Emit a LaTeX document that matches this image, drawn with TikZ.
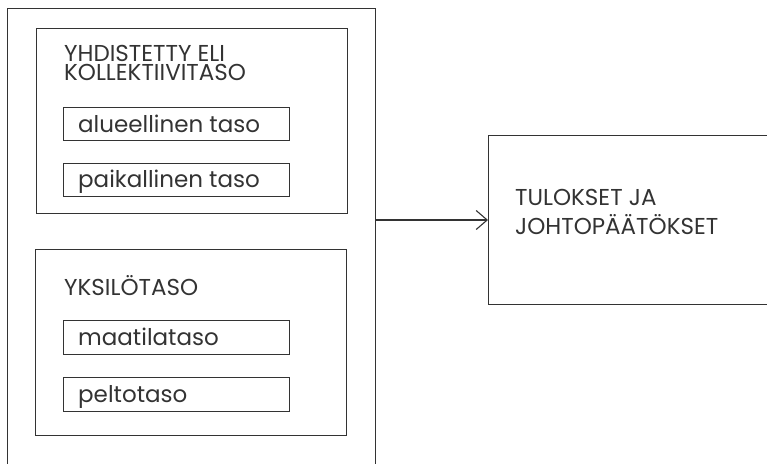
\documentclass[tikz,border=0pt]{standalone}
\usepackage{fontspec}
\setmainfont{Poppins}
\usetikzlibrary{arrows.meta}
\definecolor{ink}{HTML}{333333}
\begin{document}
\begin{tikzpicture}[x=1pt,y=-1pt,
  frame/.style={draw=ink, line width=1.2pt, inner sep=0pt, anchor=north west},
  lbl/.style={anchor=base west, inner sep=0pt, text=ink, font=\fontsize{23}{23}\selectfont},
  conn/.style={draw=ink, line width=1.1pt, -{Straight Barb[length=11pt,width=19pt]}}]
\useasboundingbox (0,0) rectangle (767,463);
\clip (0,0) rectangle (767,463);
% outer container (bottom edge outside the picture)
\node[frame, minimum width=368pt, minimum height=470pt] (outer) at (7,8) {};
% upper group
\node[frame, minimum width=311pt, minimum height=185pt] (coll) at (36,28) {};
\node[lbl, align=left, font=\fontsize{23}{19}\selectfont] (colltitle) at (64,80.5) {YHDISTETTY ELI\\KOLLEKTIIVITASO};
\node[frame, minimum width=226pt, minimum height=33pt] (alue) at (63,107) {};
\node[lbl] (aluet) at (78,132) {alueellinen taso};
\node[frame, minimum width=226pt, minimum height=33pt] (paik) at (63,163) {};
\node[lbl] (paikt) at (78,187) {paikallinen taso};
% lower group
\node[frame, minimum width=311pt, minimum height=186pt] (yks) at (35,249) {};
\node[lbl] (ykst) at (64,295) {YKSILÖTASO};
\node[frame, minimum width=226pt, minimum height=34pt] (maa) at (63,320) {};
\node[lbl] (maat) at (78,345) {maatilataso};
\node[frame, minimum width=226pt, minimum height=34pt] (pelto) at (63,377) {};
\node[lbl] (peltot) at (78,402) {peltotaso};
% result box (right edge outside the picture)
\node[frame, minimum width=300pt, minimum height=169pt] (res) at (488,135) {};
\node[lbl, align=left, font=\fontsize{23}{29}\selectfont] (rest) at (515,234) {TULOKSET JA\\JOHTOPÄÄTÖKSET};
% connector
\draw[conn] (outer.east |- 0,220) -- (res.west |- 0,220);
\end{tikzpicture}
\end{document}
